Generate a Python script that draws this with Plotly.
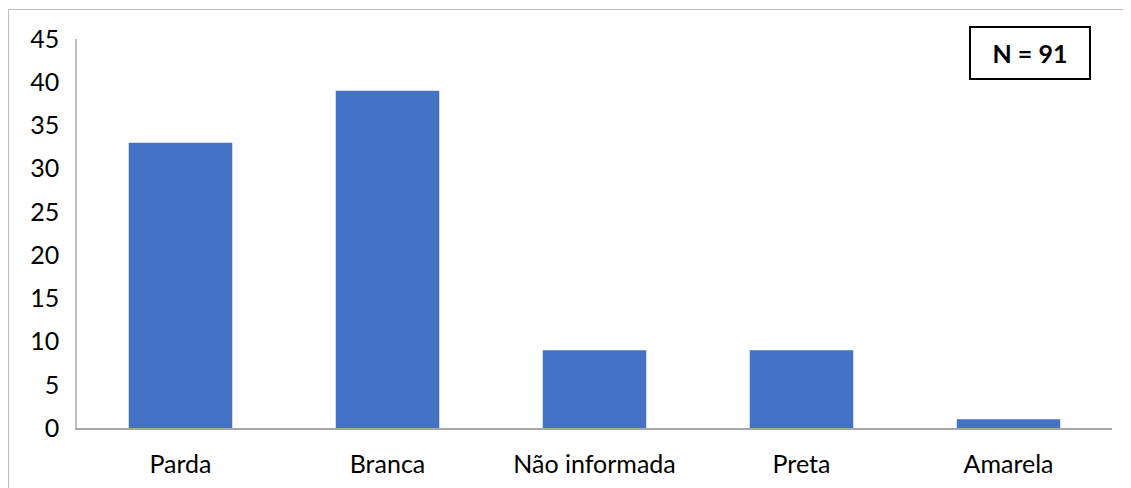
import plotly.graph_objects as go

categories = ["Parda", "Branca", "Não informada", "Preta", "Amarela"]
values = [33, 39, 9, 9, 1]
y_ticks = [0, 5, 10, 15, 20, 25, 30, 35, 40, 45]

# page is offset by 8px body margin; work in figure coordinates
OFF = 8
W, H = 1131, 488
L, R, T, B = 77 - OFF, 1131 - (1112 - OFF), 39 - OFF, 488 - (428 - OFF)
pw, ph = W - L - R, H - T - B

def px(x):
    return (x - OFF - L) / pw

def py(y):
    return (H - B - (y - OFF)) / ph

fig = go.Figure(go.Bar(x=categories, y=values, marker_color="#4472C4", marker_line_width=0))

font = dict(family="Lato, Carlito, Open Sans, sans-serif", size=25, color="#000000")

fig.update_layout(
    width=W, height=H,
    margin=dict(l=L, r=R, t=T, b=B),
    paper_bgcolor="white", plot_bgcolor="white",
    bargap=0.5,
    showlegend=False,
    font=font,
    xaxis=dict(showline=True, linecolor="#A6A6A6", linewidth=1.5, showgrid=False,
               ticks="", ticklabelstandoff=13, tickfont=font, zeroline=False),
    yaxis=dict(range=[0, 45], tickvals=y_ticks, showline=True, linecolor="#BFBFBF", linewidth=1.5,
               showgrid=False, zeroline=False, ticks="", ticklabelstandoff=11, tickfont=font),
    shapes=[dict(type="rect", xref="paper", yref="paper",
                 x0=px(8.5), x1=px(W + 20), y0=py(H + 20), y1=py(9.5),
                 line=dict(color="#BFBFBF", width=1.2), fillcolor="rgba(0,0,0,0)", layer="below")],
    annotations=[dict(text="<b>N = 91</b>", xref="paper", yref="paper",
                      x=px(1030), y=py(53), xanchor="center", yanchor="middle",
                      showarrow=False, width=118, height=50, borderpad=0,
                      bordercolor="#000000", borderwidth=2, bgcolor="white",
                      font=dict(family="Lato, Carlito, Open Sans, sans-serif", size=25, color="#000000"))],
)

fig.write_html("out.html")
